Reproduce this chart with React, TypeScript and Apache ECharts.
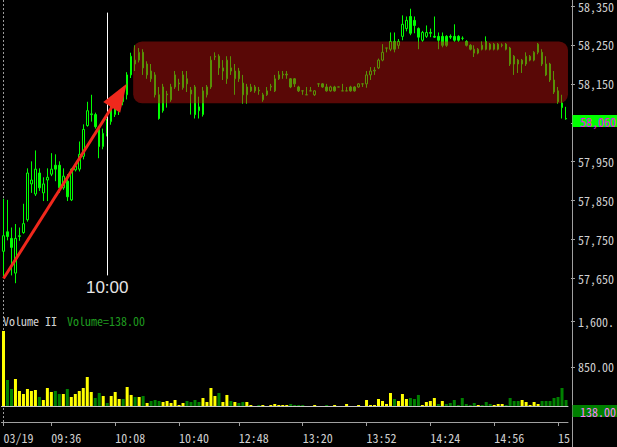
import React, { useEffect, useRef } from 'react';
import * as echarts from 'echarts';

// [open, close, low, high]
const candles: number[][] = [
  [57720, 57760, 57651, 57855], [57770, 57758, 57748, 57852], [57753, 57730, 57658, 57781], [57664, 57753, 57638, 57790],
  [57758, 57760, 57747, 57781], [57768, 57791, 57765, 57842], [57801, 57921, 57796, 57933], [57893, 57903, 57870, 57951],
  [57867, 57931, 57862, 57979], [57921, 57883, 57875, 57933], [57870, 57893, 57849, 57910], [57903, 57910, 57849, 57933],
  [57918, 57931, 57913, 57972], [57941, 57931, 57900, 57969], [57941, 57883, 57870, 57951], [57883, 57913, 57878, 57933],
  [57900, 57860, 57849, 57918], [57852, 57931, 57849, 57933], [57929, 57939, 57925, 57946], [57931, 57969, 57925, 58002],
  [57964, 58033, 57956, 58046], [58043, 58081, 58040, 58104], [58071, 58073, 58053, 58122], [58071, 58040, 58035, 58076],
  [58033, 57989, 57959, 58040], [57989, 58023, 57982, 58035], [58023, 58053, 58015, 58060], [58053, 58099, 58045, 58104],
  [58071, 58104, 58065, 58110], [58079, 58112, 58070, 58120], [58104, 58134, 58095, 58140], [58122, 58173, 58110, 58180],
  [58173, 58221, 58165, 58230], [58201, 58211, 58183, 58249], [58211, 58231, 58205, 58242], [58231, 58191, 58173, 58239],
  [58173, 58201, 58163, 58208], [58183, 58163, 58155, 58201], [58173, 58122, 58115, 58180], [58122, 58061, 58058, 58142],
  [58081, 58142, 58076, 58150], [58124, 58122, 58089, 58132], [58109, 58142, 58104, 58150], [58142, 58173, 58137, 58183],
  [58152, 58150, 58132, 58163], [58140, 58173, 58135, 58183], [58163, 58150, 58129, 58183], [58134, 58124, 58071, 58142],
  [58142, 58071, 58061, 58147], [58081, 58091, 58061, 58117], [58071, 58132, 58066, 58142], [58122, 58142, 58115, 58147],
  [58142, 58211, 58137, 58221], [58219, 58221, 58211, 58231], [58221, 58191, 58173, 58226], [58183, 58191, 58160, 58211],
  [58163, 58211, 58150, 58221], [58191, 58183, 58173, 58221], [58163, 58183, 58122, 58201], [58183, 58163, 58155, 58191],
  [58152, 58122, 58099, 58173], [58122, 58142, 58099, 58150], [58132, 58142, 58129, 58150], [58142, 58132, 58127, 58147],
  [58132, 58134, 58122, 58142], [58109, 58122, 58104, 58127], [58122, 58132, 58119, 58142], [58142, 58144, 58132, 58150],
  [58132, 58163, 58129, 58173], [58163, 58173, 58160, 58183], [58173, 58175, 58163, 58183], [58175, 58173, 58163, 58183],
  [58163, 58142, 58139, 58165], [58163, 58150, 58142, 58165], [58142, 58132, 58129, 58145], [58132, 58132, 58122, 58132],
  [58122, 58122, 58122, 58142], [58132, 58132, 58132, 58142], [58122, 58132, 58119, 58134], [58150, 58150, 58142, 58150],
  [58150, 58142, 58140, 58152], [58142, 58132, 58130, 58150], [58132, 58142, 58130, 58145], [58142, 58132, 58130, 58145],
  [58142, 58142, 58142, 58142], [58132, 58132, 58132, 58150], [58132, 58132, 58132, 58142], [58142, 58132, 58130, 58145],
  [58142, 58132, 58130, 58144], [58142, 58150, 58140, 58152], [58150, 58150, 58142, 58150], [58150, 58173, 58140, 58183],
  [58173, 58183, 58160, 58193], [58183, 58185, 58173, 58193], [58191, 58211, 58188, 58215], [58211, 58231, 58208, 58252],
  [58242, 58242, 58231, 58242], [58239, 58259, 58234, 58282], [58259, 58239, 58231, 58282], [58249, 58259, 58240, 58265],
  [58272, 58303, 58262, 58326], [58292, 58313, 58285, 58323], [58323, 58280, 58275, 58343], [58313, 58300, 58280, 58323],
  [58292, 58270, 58239, 58295], [58262, 58282, 58258, 58286], [58272, 58282, 58268, 58300], [58282, 58280, 58270, 58292],
  [58272, 58270, 58268, 58323], [58272, 58262, 58239, 58282], [58272, 58249, 58244, 58282], [58272, 58249, 58245, 58275],
  [58272, 58270, 58265, 58277], [58272, 58262, 58258, 58303], [58272, 58262, 58258, 58275], [58267, 58267, 58262, 58272],
  [58259, 58249, 58246, 58262], [58249, 58239, 58236, 58252], [58229, 58239, 58219, 58249], [58229, 58239, 58226, 58242],
  [58249, 58239, 58236, 58259], [58259, 58239, 58236, 58272], [58252, 58239, 58236, 58255], [58239, 58252, 58236, 58255],
  [58239, 58252, 58236, 58255], [58249, 58250, 58244, 58254], [58252, 58239, 58236, 58255], [58242, 58201, 58196, 58245],
  [58221, 58201, 58173, 58224], [58211, 58201, 58178, 58214], [58201, 58211, 58178, 58214], [58201, 58221, 58196, 58231],
  [58211, 58221, 58208, 58224], [58211, 58231, 58208, 58234], [58231, 58252, 58226, 58255], [58231, 58201, 58196, 58239],
  [58201, 58173, 58170, 58221], [58201, 58160, 58155, 58204], [58160, 58129, 58124, 58183], [58132, 58104, 58099, 58142],
  [58101, 58089, 58061, 58122], [58061, 58060, 58058, 58091],
];

const volumes: number[] = [
  1441, 637, 489, 653, 456, 407, 489, 456, 473, 358,
  308, 505, 440, 456, 407, 407, 489, 358, 407, 456,
  505, 686, 440, 341, 423, 374, 259, 374, 440, 325,
  325, 522, 391, 358, 358, 374, 259, 292, 308, 292,
  276, 292, 259, 308, 226, 259, 292, 276, 308, 276,
  341, 276, 505, 374, 423, 276, 391, 292, 276, 259,
  276, 276, 226, 200, 226, 226, 200, 226, 243, 226,
  226, 226, 243, 226, 226, 226, 200, 200, 226, 200,
  200, 226, 200, 226, 200, 200, 243, 200, 200, 226,
  200, 308, 226, 226, 325, 292, 243, 423, 325, 292,
  407, 325, 341, 325, 391, 226, 276, 292, 341, 243,
  292, 243, 259, 308, 226, 341, 243, 226, 259, 226,
  226, 276, 243, 226, 243, 243, 226, 341, 292, 292,
  308, 276, 226, 276, 243, 292, 292, 292, 341, 358,
  505, 308,
];

// 1 = yellow bar, 0 = green bar
const volumeUp: number[] = [
  1, 0, 0, 1, 1, 1, 1, 1, 1, 0,
  1, 1, 1, 0, 0, 1, 0, 1, 1, 1,
  1, 1, 1, 0, 0, 1, 0, 1, 1, 1,
  0, 1, 1, 0, 1, 0, 1, 0, 0, 0,
  1, 1, 1, 1, 1, 1, 0, 0, 0, 0,
  1, 1, 1, 1, 0, 1, 1, 0, 1, 0,
  0, 1, 1, 1, 0, 1, 1, 1, 1, 1,
  1, 1, 0, 0, 0, 0, 1, 1, 1, 1,
  1, 0, 1, 1, 1, 1, 1, 1, 1, 1,
  1, 1, 1, 1, 1, 1, 1, 1, 0, 1,
  1, 1, 0, 0, 0, 1, 1, 1, 1, 0,
  1, 0, 0, 0, 0, 0, 0, 0, 0, 1,
  0, 0, 0, 1, 1, 1, 0, 0, 0, 0,
  1, 1, 1, 1, 1, 0, 0, 0, 0, 0,
  0, 0,
];

const priceTicks = [57650, 57750, 57850, 57950, 58050, 58150, 58250, 58350];
const priceLabels = [57650, 57750, 57850, 57950, 58150, 58250, 58350]; // 58,050 is covered by the last-price box
const volumeTicks = [100, 850, 1600];
const timeTickIndex = [0, 12, 28, 44, 59, 75, 91, 107, 123, 139];
const timeTickLabels = ['03/19', '09:36', '10:08', '10:40', '12:48', '13:20', '13:52', '14:24', '14:56', '15'];

const lastPrice = 58060;
const lastVolume = 138;
const overlayZone = [33, 141, 58259, 58100]; // fromIndex, toIndex, high, low
const arrowStart = [0, 57650];
const arrowEnd = [29, 58120];
const markerIndex = 26;
const markerTop = 58333;
const markerBottom = 57658;
const markerLabel = '10:00';

const MONO = '"Noto Sans Mono CJK JP", "DejaVu Sans Mono", monospace';

const fmtPrice = (v: number) => v.toLocaleString('en-US');
const fmtVol = (v: number) =>
  v.toLocaleString('en-US', { minimumFractionDigits: 2, maximumFractionDigits: 2 });

export default function App() {
  const ref = useRef<HTMLDivElement>(null);

  useEffect(() => {
    if (!ref.current) return;
    const chart = echarts.init(ref.current, undefined, { renderer: 'svg' });
    const cats = candles.map((_, i) => String(i));
    const tickShow = (i: number) => timeTickIndex.indexOf(i) >= 0;

    const gridLeft = 1.5;
    const gridWidth = 568;
    const axisX = gridLeft + gridWidth + 3;

    const option: any = {
      backgroundColor: '#000',
      animation: false,
      grid: [
        { left: gridLeft, top: 0, width: gridWidth, height: 305 },
        { left: gridLeft, top: 305, width: gridWidth, height: 101 },
      ],
      xAxis: [
        { type: 'category', gridIndex: 0, data: cats, show: false },
        {
          type: 'category', gridIndex: 1, data: cats,
          axisLine: { show: true, lineStyle: { color: '#c8c8c8', width: 1 } },
          axisTick: { show: false }, axisLabel: { show: false },
        },
        {
          type: 'category', gridIndex: 1, data: cats, position: 'bottom', offset: 16,
          axisLine: { show: true, lineStyle: { color: '#a0a0a0', width: 1 } },
          axisTick: {
            show: true, alignWithLabel: true, length: 4,
            interval: (i: number) => tickShow(i),
            lineStyle: { color: '#a0a0a0' },
          },
          axisLabel: {
            interval: (i: number) => tickShow(i),
            formatter: (_v: string, i: number) => timeTickLabels[timeTickIndex.indexOf(i)] ?? '',
            align: 'left', margin: 9, color: '#d0d0d0', fontSize: 12, fontFamily: MONO,
          },
        },
      ],
      yAxis: [
        {
          type: 'value', gridIndex: 0, position: 'right', offset: 3,
          min: 57582, max: 58358.7,
          splitLine: { show: false },
          axisLine: { show: false },
          axisTick: { show: true, length: 4, customValues: priceTicks, lineStyle: { color: '#a0a0a0' } },
          axisLabel: {
            customValues: priceLabels, formatter: (v: number) => fmtPrice(v),
            margin: 7, color: '#d0d0d0', fontSize: 12, fontFamily: MONO, align: 'left',
          },
        },
        {
          type: 'value', gridIndex: 1, position: 'right', offset: 3,
          min: 210, max: 1867,
          splitLine: { show: false },
          axisLine: { show: false },
          axisTick: { show: true, length: 4, customValues: volumeTicks, lineStyle: { color: '#a0a0a0' } },
          axisLabel: {
            customValues: volumeTicks, formatter: (v: number) => fmtVol(v).slice(0, 6),
            margin: 7, color: '#d0d0d0', fontSize: 12, fontFamily: MONO, align: 'left',
          },
        },
      ],
      series: [
        {
          type: 'candlestick', xAxisIndex: 0, yAxisIndex: 0,
          data: candles,
          barWidth: 2,
          itemStyle: {
            color: '#000', color0: '#00ff00',
            borderColor: '#00ff00', borderColor0: '#00ff00', borderWidth: 1,
          },
          markLine: {
            silent: true, animation: false, symbol: ['none', 'none'],
            data: [
              [
                { coord: [markerIndex, markerTop], symbol: 'none', lineStyle: { color: '#ffffff', width: 1, type: 'solid' },
                  label: { show: true, position: 'end', formatter: markerLabel, color: '#e6e6e6', fontSize: 17, fontFamily: '"Liberation Sans", Arial, sans-serif', distance: 4 } },
                { coord: [markerIndex, markerBottom], symbol: 'none' },
              ],
              [
                { coord: arrowStart, symbol: 'none', lineStyle: { color: '#f0281c', width: 3, type: 'solid' }, label: { show: false } },
                { coord: arrowEnd, symbol: 'triangle', symbolSize: [20, 28], lineStyle: { color: '#f0281c', width: 3, type: 'solid' }, label: { show: false } },
              ],
            ],
          },
        },
        {
          type: 'custom', xAxisIndex: 0, yAxisIndex: 0, z: 5, silent: true,
          data: [overlayZone],
          renderItem: (_p: any, api: any) => {
            const p0 = api.coord([api.value(0), api.value(2)]);
            const p1 = api.coord([api.value(1), api.value(3)]);
            const bw = api.size([1, 0])[0];
            const x = p0[0] - bw / 2;
            const w = p1[0] + bw / 2 - x;
            return {
              type: 'rect',
              shape: { x, y: p0[1], width: w, height: p1[1] - p0[1], r: 9 },
              style: { fill: 'rgba(190,18,12,0.47)' },
            };
          },
        },
        {
          type: 'bar', xAxisIndex: 1, yAxisIndex: 1, barWidth: 3,
          data: volumes.map((v, i) => ({ value: v, itemStyle: { color: volumeUp[i] ? '#ffff00' : '#008000' } })),
        },
      ],
    };
    chart.setOption(option);

    const py = chart.convertToPixel({ yAxisIndex: 0 }, lastPrice) as number;
    const vy = chart.convertToPixel({ yAxisIndex: 1 }, lastVolume) as number;
    const x0 = chart.convertToPixel({ xAxisIndex: 0 }, 0) as number;
    const boxY = Math.round(py) + 2;
    const vboxY = Math.round(vy) + 1;

    chart.setOption({
      graphic: [
        { type: 'line', z: 50, shape: { x1: axisX, y1: 0, x2: axisX, y2: 447 }, style: { stroke: '#a0a0a0', lineWidth: 1 } },
        { type: 'line', z: 1, shape: { x1: Math.round(x0) + 0.5, y1: 0, x2: Math.round(x0) + 0.5, y2: 422 }, style: { stroke: '#9a9a9a', lineWidth: 1, lineDash: [2, 2] } },
        { type: 'rect', z: 60, shape: { x: axisX, y: boxY - 6, width: 617 - axisX, height: 12 }, style: { fill: '#00ff00' } },
        { type: 'text', z: 61, style: { text: fmtPrice(lastPrice), x: axisX + 7.5, y: boxY, fill: '#ff00ff', font: `12px ${MONO}`, verticalAlign: 'middle', textVerticalAlign: 'middle' } },
        { type: 'rect', z: 60, shape: { x: axisX, y: vboxY - 6, width: 617 - axisX, height: 12 }, style: { fill: '#008000' } },
        { type: 'text', z: 61, style: { text: fmtVol(lastVolume), x: axisX + 7.5, y: vboxY, fill: '#ff80ff', font: `12px ${MONO}`, verticalAlign: 'middle', textVerticalAlign: 'middle' } },
        { type: 'text', z: 61, style: { text: 'Volume II', x: 3, y: 320, fill: '#d0d0d0', font: `12px ${MONO}`, verticalAlign: 'middle', textVerticalAlign: 'middle' } },
        { type: 'text', z: 61, style: { text: 'Volume=' + fmtVol(lastVolume), x: 67, y: 320, fill: '#1f9a1f', font: `12px ${MONO}`, verticalAlign: 'middle', textVerticalAlign: 'middle' } },
      ],
    });

    return () => chart.dispose();
  }, []);

  return (
    <div
      ref={ref}
      style={{ position: 'absolute', left: 0, top: 0, width: 617, height: 447, background: '#000' }}
    />
  );
}
